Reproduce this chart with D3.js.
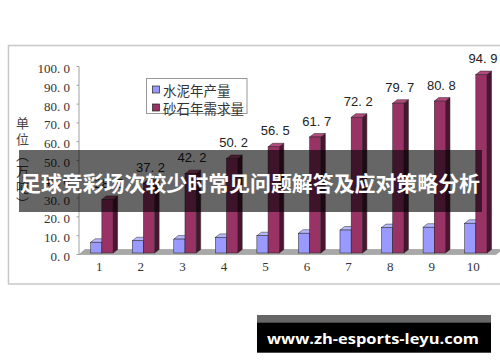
<!DOCTYPE html>
<html><head><meta charset="utf-8">
<script src="https://cdn.jsdelivr.net/npm/d3@7"></script>
<style>html,body{margin:0;padding:0;background:#fff;}svg{display:block;}</style>
</head><body>
<svg id="c" width="500" height="362"></svg>
<script>
const categories = ["1","2","3","4","5","6","7","8","9","10"];
const seriesNames = ["水泥年产量","砂石年需求量"];
const cementOutput = [5.7, 6.5, 7.4, 8.3, 9.2, 10.5, 12.2, 13.5, 13.7, 15.8];
const sandDemand = [28.5, 37.2, 42.2, 50.2, 56.5, 61.7, 72.2, 79.7, 80.8, 94.9];
const yTicks = [0,10,20,30,40,50,60,70,80,90,100];
const yTickLabels = ["0. 0","10. 0","20. 0","30. 0","40. 0","50. 0","60. 0","70. 0","80. 0","90. 0","100. 0"];
const yTitleChars = ["单","位","︵","万","吨","︶"];
const watermarkTitle = "足球竞彩场次较少时常见问题解答及应对策略分析";
const watermarkUrl = "www.zh-esports-leyu.com";

const svg = d3.select("#c");
const x = d3.scaleBand().domain(categories).range([78.5, 494]);
const y = d3.scaleLinear().domain([0,100]).range([254.5, 66.5]);
const lift = -1.5, dx = 4.5, dy = -3.5, bw = 11.2;

// frame
svg.append("rect").attr("x",8.5).attr("y",45.5).attr("width",500).attr("height",238.5)
  .attr("fill","#fff").attr("stroke","#c8c8c8").attr("stroke-width",1.5);

// floor
const x0 = x.range()[0], x1 = x.range()[1];
svg.append("polygon")
  .attr("points",[[x0+0.5,y(0)],[x1+2,y(0)],[x1+8,y(0)-5],[x0+6.5,y(0)-5]].map(p=>p.join(",")).join(" "))
  .attr("fill","#a8a8a8").attr("stroke","#8a8a8a").attr("stroke-width",0.5);

// y axis
svg.append("line").attr("x1",79).attr("x2",79).attr("y1",y(100)).attr("y2",y(0))
  .attr("stroke","#a0a0a0").attr("stroke-width",1);
svg.selectAll(".yt").data(yTicks).enter().append("line")
  .attr("x1",76.5).attr("x2",79).attr("y1",d=>y(d)).attr("y2",d=>y(d))
  .attr("stroke","#a0a0a0");
svg.selectAll(".yl").data(yTicks).enter().append("text")
  .attr("x",70).attr("y",d=>y(d)+2).attr("text-anchor","end").attr("dominant-baseline","central")
  .attr("font-family","Liberation Serif, serif").attr("font-size",13).attr("fill","#333")
  .text((d,i)=>yTickLabels[i]);

// y title
svg.append("g").selectAll("text").data(yTitleChars).enter().append("text")
  .attr("x",22.5).attr("y",(d,i)=>122+i*16).attr("text-anchor","middle").attr("dominant-baseline","central")
  .attr("font-family","Noto Sans CJK SC").attr("font-size",13).attr("fill","#444").text(d=>d);

// x labels
svg.selectAll(".xl").data(categories).enter().append("text")
  .attr("x",d=>x(d)+x.bandwidth()/2).attr("y",266).attr("text-anchor","middle").attr("dominant-baseline","central")
  .attr("font-family","Liberation Serif, serif").attr("font-size",13).attr("fill","#333").text(d=>d);

// 3D bars
function bar(g, left, v, cols){
  const top = y(v)+lift, base = y(0)+lift, right = left+bw;
  g.append("polygon").attr("points",[[right,base],[right+dx,base+dy],[right+dx,top+dy],[right,top]].map(p=>p.join(",")).join(" "))
    .attr("fill",cols[1]).attr("stroke","#222").attr("stroke-width",0.5);
  g.append("polygon").attr("points",[[left,top],[right,top],[right+dx,top+dy],[left+dx,top+dy]].map(p=>p.join(",")).join(" "))
    .attr("fill",cols[2]).attr("stroke","#222").attr("stroke-width",0.5);
  g.append("rect").attr("x",left).attr("y",top).attr("width",bw).attr("height",base-top)
    .attr("fill",cols[0]).attr("stroke","#222").attr("stroke-width",0.5);
}
const blueCols = ["#9999ff","#4d4d99","#b8b8ff"];
const redCols = ["#993366","#4a1530","#b54a7e"];
const bars = svg.append("g");
categories.forEach((c,i)=>{
  const cx = x(c)+x.bandwidth()/2;
  bar(bars, cx-8.6, cementOutput[i], blueCols);
  bar(bars, cx+2.6, sandDemand[i], redCols);
});

// value labels
svg.selectAll(".vl").data(categories).enter().append("text")
  .attr("x",d=>x(d)+x.bandwidth()/2+2.6+bw/2+1.5)
  .attr("y",(d,i)=>y(sandDemand[i])+lift-16).attr("text-anchor","middle").attr("dominant-baseline","central")
  .attr("font-family","Liberation Sans, Arial, sans-serif").attr("font-size",13).attr("fill","#222")
  .text((d,i)=>sandDemand[i].toFixed(1).replace(".",". "));

// legend
const lg = svg.append("g");
lg.append("rect").attr("x",146.5).attr("y",78.5).attr("width",100.5).attr("height",35)
  .attr("fill","#fff").attr("stroke","#999");
seriesNames.forEach((n,i)=>{
  const cy = 89.5 + i*18;
  lg.append("rect").attr("x",152.5).attr("y",cy-3.5).attr("width",7).attr("height",7)
    .attr("fill",i===0?blueCols[0]:redCols[0]).attr("stroke","#222").attr("stroke-width",0.7);
  lg.append("text").attr("x",163).attr("y",cy).attr("dominant-baseline","central")
    .attr("font-family","Noto Sans CJK SC").attr("font-size",13.5).attr("fill","#333").text(n);
});

// watermark band
svg.append("rect").attr("x",19).attr("y",150).attr("width",463).attr("height",62).attr("fill","rgba(0,0,0,0.6)");
svg.append("text").attr("x",250).attr("y",182).attr("text-anchor","middle").attr("dominant-baseline","central")
  .attr("font-family","Noto Sans CJK SC").attr("font-weight","bold").attr("font-size",21)
  .attr("fill","#fff").attr("textLength",460).attr("lengthAdjust","spacingAndGlyphs").text(watermarkTitle);

// url watermark
svg.append("rect").attr("x",257).attr("y",315).attr("width",234).attr("height",8).attr("fill","#666");
svg.append("rect").attr("x",257).attr("y",322.7).attr("width",234).attr("height",30).attr("fill","#000");
svg.append("text").attr("x",373).attr("y",337.5).attr("text-anchor","middle").attr("dominant-baseline","central")
  .attr("font-family","Open Sans, sans-serif").attr("font-weight","bold").attr("font-size",15)
  .attr("fill","#fff").attr("textLength",212).attr("lengthAdjust","spacingAndGlyphs").text(watermarkUrl);
</script>
</body></html>
